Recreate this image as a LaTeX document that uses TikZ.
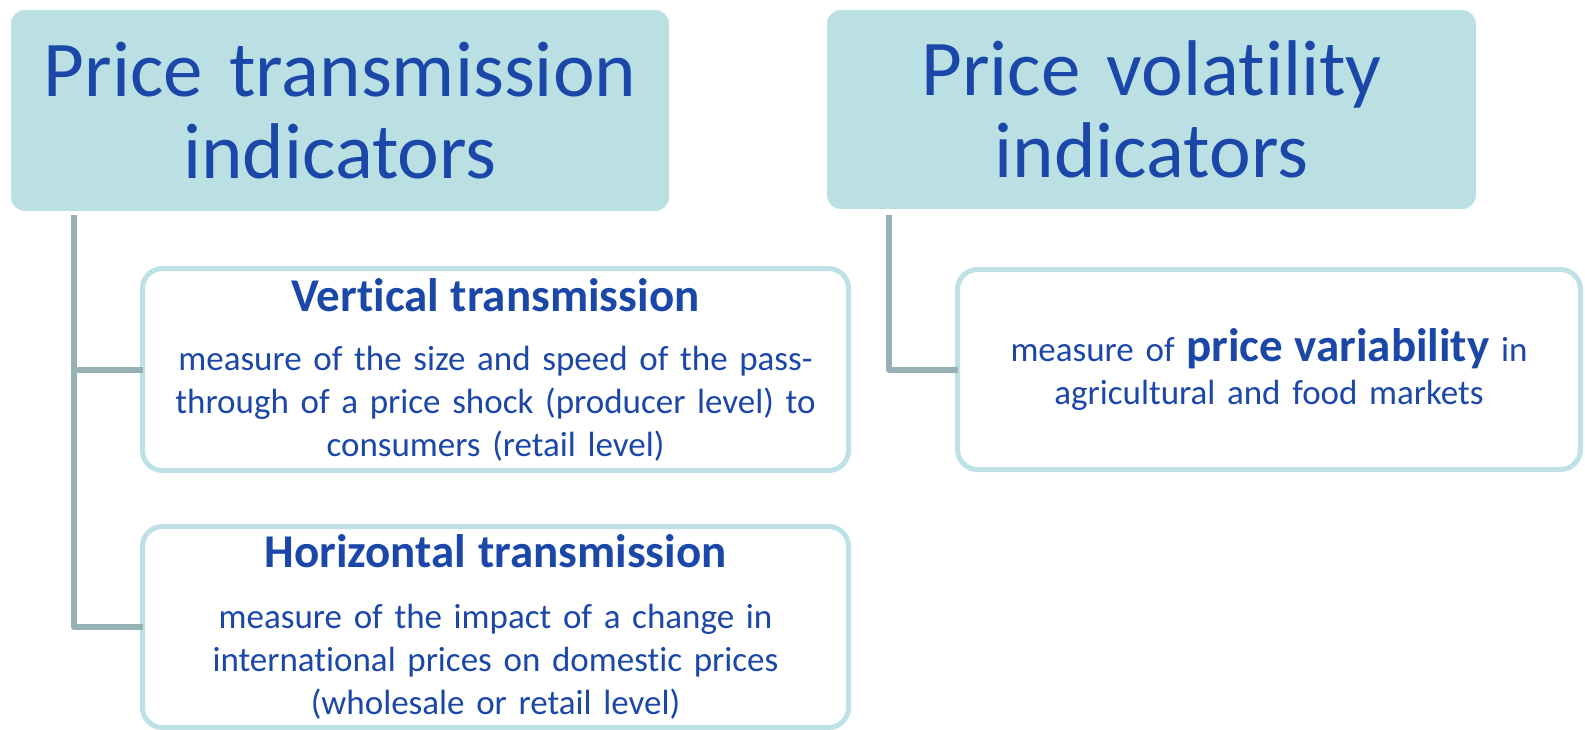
\documentclass[tikz,border=0pt]{standalone}
\usepackage{fontspec}
\setmainfont[Ligatures=NoCommon]{Carlito}
\definecolor{headfill}{HTML}{BAE0E3}
\definecolor{boxline}{HTML}{BDE1E4}
\definecolor{linkgray}{HTML}{97B2B5}
\definecolor{inkblue}{HTML}{1B47A8}
\begin{document}
\begin{tikzpicture}[x=1pt, y=-1pt,
    headbox/.style={fill=headfill, rounded corners=14pt, anchor=north west,
        inner sep=0pt, outer sep=0pt, align=center, text=inkblue,
        font=\fontsize{79}{82}\selectfont},
    subbox/.style={draw=boxline, line width=5pt, rounded corners=20pt,
        anchor=north west, inner sep=0pt, outer sep=0pt, align=center, text=inkblue,
        font=\fontsize{35}{43}\selectfont},
    branch/.style={draw=linkgray, line width=6pt, line join=round}]
    \useasboundingbox (0, 0) rectangle (1585, 730);
    % indicator groups
    \node[headbox, minimum width=658pt, minimum height=201pt, text width=640pt]
        (ptrans) at (11, 10) {Price transmission\\indicators};
    \node[headbox, minimum width=649pt, minimum height=199pt, text width=630pt]
        (pvol) at (827, 10) {Price volatility\\indicators};
    % what each one measures
    \node[subbox, minimum width=706pt, minimum height=202pt, text width=700pt]
        (vert) at (142.5, 268.5) {{\bfseries\fontsize{47}{50}\selectfont Vertical transmission}\\[16pt]
        measure of the size and speed of the pass-\\through of a price shock (producer level) to\\consumers (retail level)};
    \node[subbox, minimum width=706pt, minimum height=201pt, text width=700pt]
        (horiz) at (142.5, 526.5) {{\bfseries\fontsize{47}{50}\selectfont Horizontal transmission}\\[18pt]
        measure of the impact of a change in\\international prices on domestic prices\\(wholesale or retail level)};
    \node[subbox, minimum width=623pt, minimum height=200pt, text width=615pt]
        (vari) at (957.5, 269.5) {measure of {\bfseries\fontsize{47}{43}\selectfont price variability} in\\agricultural and food markets};
    % tree lines
    \draw[branch] ([xshift=63pt, yshift=-4pt]ptrans.south west) |- (vert.west);
    \draw[branch] ([xshift=63pt, yshift=-4pt]ptrans.south west) |- (horiz.west);
    \draw[branch] ([xshift=62pt, yshift=-6pt]pvol.south west) |- (vari.west);
\end{tikzpicture}
\end{document}
